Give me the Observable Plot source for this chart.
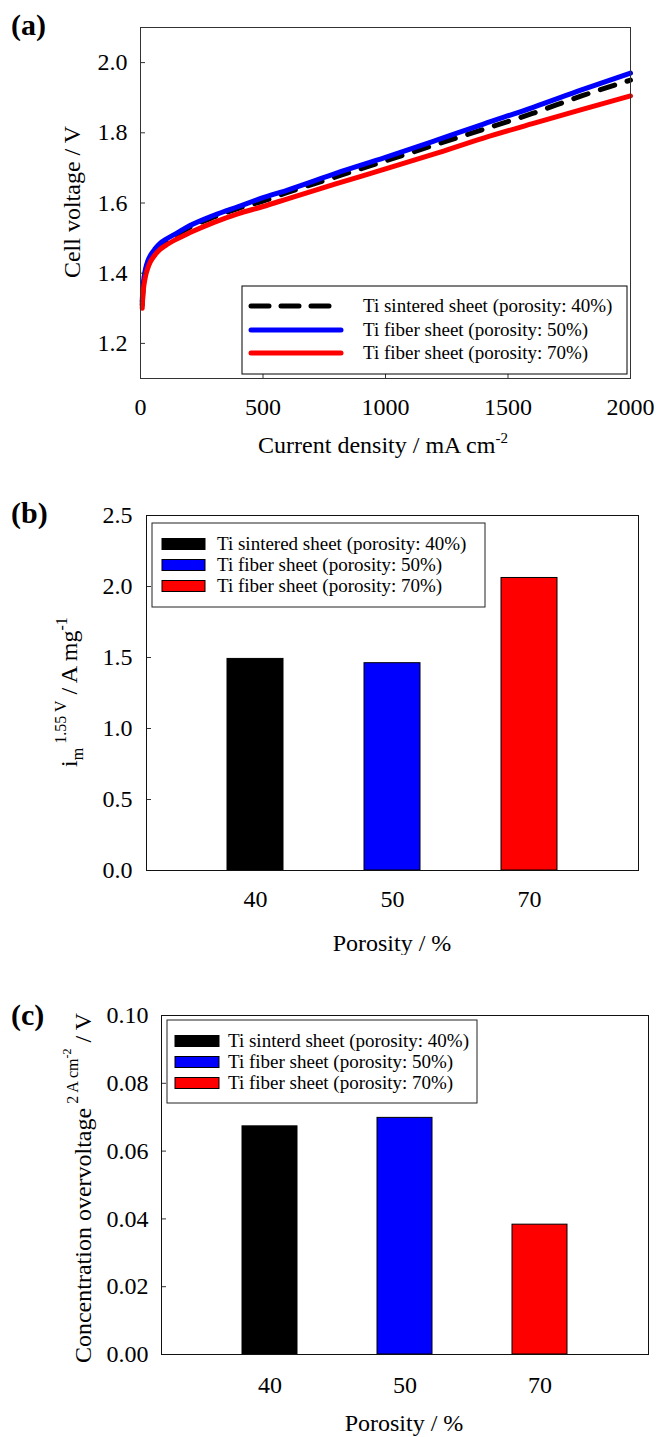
<!DOCTYPE html>
<html><head><meta charset="utf-8">
<script src="https://cdn.jsdelivr.net/npm/d3@7"></script>
<script src="https://cdn.jsdelivr.net/npm/@observablehq/plot@0.6"></script>
<style>
body{margin:0;background:#fff;}
#root{position:relative;width:656px;height:1437px;overflow:hidden;background:#fff;}
#root svg{position:absolute;left:0;}
</style></head><body><div id="root"></div>
<script>
const FONT = "'Liberation Serif', 'Times New Roman', serif";

// ---- Panel (a): polarization curves ----
const currentDensity = [7, 10, 15, 20, 30, 40, 60, 80, 100, 150, 200, 300, 400, 500, 600, 800, 1000, 1200, 1400, 1600, 1800, 2000];
const vSintered40 = [1.31, 1.35, 1.385, 1.405, 1.43, 1.445, 1.465, 1.48, 1.49, 1.51, 1.53, 1.56, 1.585, 1.605, 1.63, 1.675, 1.72, 1.765, 1.81, 1.855, 1.905, 1.95];
const vFiber50    = [1.32, 1.36, 1.39, 1.41, 1.435, 1.45, 1.47, 1.485, 1.495, 1.515, 1.535, 1.565, 1.59, 1.615, 1.637, 1.685, 1.73, 1.777, 1.825, 1.872, 1.922, 1.97];
const vFiber70    = [1.30, 1.34, 1.37, 1.39, 1.415, 1.432, 1.453, 1.468, 1.478, 1.498, 1.515, 1.545, 1.57, 1.59, 1.612, 1.655, 1.697, 1.74, 1.785, 1.826, 1.866, 1.905];
const xTicksA = [0, 500, 1000, 1500, 2000];
const yTicksA = [1.2, 1.4, 1.6, 1.8, 2.0];
const seriesA = ["Ti sintered sheet (porosity: 40%)", "Ti fiber sheet (porosity: 50%)", "Ti fiber sheet (porosity: 70%)"];

// ---- Panels (b), (c): bars ----
const porosity = ["40", "50", "70"];
const massActivity = [1.49, 1.46, 2.06];
const concOvervoltage = [0.0673, 0.0698, 0.0383];
const yTicksB = [0, 0.5, 1.0, 1.5, 2.0, 2.5];
const yTicksC = [0, 0.02, 0.04, 0.06, 0.08, 0.10];
const seriesB = ["Ti sintered sheet (porosity: 40%)", "Ti fiber sheet (porosity: 50%)", "Ti fiber sheet (porosity: 70%)"];
const seriesC = ["Ti sinterd sheet (porosity: 40%)", "Ti fiber sheet (porosity: 50%)", "Ti fiber sheet (porosity: 70%)"];
const colors = ["#000000", "#0000ff", "#ff0000"];

const root = document.getElementById("root");
const baseStyle = {fontFamily: FONT, fontSize: "24px", color: "#000", background: "#fff", overflow: "visible"};

function inwardAxes(xTicks, yTicks, xfmt, yfmt, xpad, ypad, isBand) {
  const m = [];
  m.push(Plot.axisY({ticks: yTicks, tickSize: 0, tickPadding: ypad, tickFormat: yfmt, label: null}));
  m.push(Plot.axisY({ticks: yTicks, tickSize: 5, dx: 5, fill: "none", label: null, stroke: "#333"}));
  if (isBand) {
    m.push(Plot.axisX({tickSize: 0, tickPadding: xpad, label: null}));
  } else {
    m.push(Plot.axisX({ticks: xTicks, tickSize: 0, tickPadding: xpad, tickFormat: xfmt, label: null}));
    m.push(Plot.axisX({ticks: xTicks, tickSize: 5, dy: -5, fill: "none", label: null, stroke: "#333"}));
  }
  return m;
}

// ===== Panel A =====
const curveRows = [];
[vSintered40, vFiber50, vFiber70].forEach((arr, s) => arr.forEach((v, i) => curveRows.push({I: currentDensity[i], V: v, s})));
const A = Plot.plot({
  width: 656, height: 470, marginTop: 27, marginBottom: 92, marginLeft: 140, marginRight: 26,
  style: baseStyle,
  x: {domain: [0, 2000]},
  y: {domain: [1.1, 2.1]},
  marks: [
    Plot.line(curveRows.filter(d => d.s === 0), {x: "I", y: "V", stroke: colors[0], strokeWidth: 5, strokeDasharray: "15,13", strokeLinecap: "round", curve: "monotone-x"}),
    Plot.line(curveRows.filter(d => d.s === 1), {x: "I", y: "V", stroke: colors[1], strokeWidth: 5, strokeLinecap: "round", curve: "monotone-x"}),
    Plot.line(curveRows.filter(d => d.s === 2), {x: "I", y: "V", stroke: colors[2], strokeWidth: 5, strokeLinecap: "round", curve: "monotone-x"}),
    ...inwardAxes(xTicksA, yTicksA, d3.format("d"), d3.format(".1f"), 19, 13, false),
    Plot.frame({stroke: "#333"})
  ]
});
A.style.top = "0px";
root.appendChild(A);

// ===== Panel B =====
const barsB = porosity.map((p, i) => ({p, v: massActivity[i]}));
const B = Plot.plot({
  width: 656, height: 485, marginTop: 45, marginBottom: 85, marginLeft: 146, marginRight: 18,
  style: baseStyle,
  x: {type: "band", domain: porosity, padding: 0.59},
  y: {domain: [0, 2.5]},
  color: {type: "ordinal", domain: porosity, range: colors},
  marks: [
    Plot.barY(barsB, {x: "p", y: "v", fill: "p", stroke: "#000", strokeWidth: 1}),
    ...inwardAxes(null, yTicksB, null, d3.format(".1f"), 19, 14, true),
    Plot.frame({stroke: "#111"})
  ]
});
B.style.top = "470px";
root.appendChild(B);

// ===== Panel C =====
const barsC = porosity.map((p, i) => ({p, v: concOvervoltage[i]}));
const C = Plot.plot({
  width: 656, height: 482, marginTop: 60, marginBottom: 83, marginLeft: 161, marginRight: 8,
  style: baseStyle,
  x: {type: "band", domain: porosity, padding: 0.59},
  y: {domain: [0, 0.10]},
  color: {type: "ordinal", domain: porosity, range: colors},
  marks: [
    Plot.barY(barsC, {x: "p", y: "v", fill: "p", stroke: "#000", strokeWidth: 1}),
    ...inwardAxes(null, yTicksC, null, d3.format(".2f"), 21, 13, true),
    Plot.frame({stroke: "#111"})
  ]
});
C.style.top = "955px";
root.appendChild(C);

// ===== Annotations (titles, legends, panel letters) =====
function panelLetter(svg, txt, x, y) {
  d3.select(svg).append("text").attr("x", x).attr("y", y).attr("text-anchor", "start")
    .attr("font-family", FONT).attr("font-weight", "bold").attr("font-size", 30).attr("fill", "#000").text(txt);
}
function rotLabel(svg, x, y, parts) {
  const t = d3.select(svg).append("text")
    .attr("transform", `translate(${x},${y}) rotate(-90)`)
    .attr("text-anchor", "middle").attr("font-family", FONT).attr("font-size", 24).attr("fill", "#000");
  parts.forEach(p => {
    const s = t.append("tspan").text(p.t);
    if (p.size) s.attr("font-size", p.size);
    if (p.dy) s.attr("dy", p.dy);
    if (p.dx) s.attr("dx", p.dx);
  });
}
function hLabel(svg, x, y, parts) {
  const t = d3.select(svg).append("text").attr("x", x).attr("y", y)
    .attr("text-anchor", "middle").attr("font-family", FONT).attr("font-size", 24).attr("fill", "#000");
  parts.forEach(p => {
    const s = t.append("tspan").text(p.t);
    if (p.size) s.attr("font-size", p.size);
    if (p.dy) s.attr("dy", p.dy);
  });
}

// Panel A texts
panelLetter(A, "(a)", 11, 35);
rotLabel(A, 80, 202, [{t: "Cell voltage / V"}]);
hLabel(A, 383, 453, [{t: "Current density / mA cm"}, {t: "-2", size: 15, dy: -10}]);
{
  const g = d3.select(A).append("g").attr("font-family", FONT).attr("font-size", 19).attr("text-anchor", "start");
  g.append("rect").attr("x", 242).attr("y", 286).attr("width", 385).attr("height", 88).attr("fill", "#fff").attr("stroke", "#000").attr("stroke-width", 1);
  const rows = [306, 330, 353];
  seriesA.forEach((name, i) => {
    const ln = g.append("line").attr("x1", 251).attr("x2", 341).attr("y1", rows[i]).attr("y2", rows[i])
      .attr("stroke", colors[i]).attr("stroke-width", 5).attr("stroke-linecap", "round");
    if (i === 0) ln.attr("stroke-dasharray", "18,12");
    g.append("text").attr("x", 363).attr("y", rows[i] + 6).attr("fill", "#000").attr("text-anchor", "start").text(name);
  });
}

// Panel B texts (svg offset 470)
panelLetter(B, "(b)", 11, 523 - 470);
rotLabel(B, 77, 692 - 470, [
  {t: "i"}, {t: "m", size: 16, dy: 6}, {t: "1.55 V", size: 16, dy: -17, dx: 4},
  {t: " / A mg", dy: 11}, {t: "-1", size: 16, dy: -10}
]);
hLabel(B, 392, 951 - 470, [{t: "Porosity / %"}]);
{
  const g = d3.select(B).append("g").attr("font-family", FONT).attr("font-size", 19).attr("text-anchor", "start");
  g.append("rect").attr("x", 152).attr("y", 523 - 470).attr("width", 333).attr("height", 84).attr("fill", "#fff").attr("stroke", "#222").attr("stroke-width", 1);
  const rows = [544, 565, 586];
  seriesB.forEach((name, i) => {
    g.append("rect").attr("x", 162).attr("y", rows[i] - 470 - 5.5).attr("width", 43).attr("height", 11)
      .attr("fill", colors[i]).attr("stroke", "#000").attr("stroke-width", 1);
    g.append("text").attr("x", 217).attr("y", rows[i] - 470 + 6).attr("fill", "#000").attr("text-anchor", "start").text(name);
  });
}

// Panel C texts (svg offset 955)
panelLetter(C, "(c)", 11, 1025 - 955);
rotLabel(C, 91, 1188 - 955, [
  {t: "Concentration overvoltage"}, {t: " 2 A cm", size: 16, dy: -13}, {t: "-2", size: 12, dy: -7},
  {t: " / V", dy: 20}
]);
hLabel(C, 404, 1431 - 955, [{t: "Porosity / %"}]);
{
  const g = d3.select(C).append("g").attr("font-family", FONT).attr("font-size", 19).attr("text-anchor", "start");
  g.append("rect").attr("x", 167).attr("y", 1020 - 955).attr("width", 310).attr("height", 83).attr("fill", "#fff").attr("stroke", "#222").attr("stroke-width", 1);
  const rows = [1041, 1062, 1083];
  seriesC.forEach((name, i) => {
    g.append("rect").attr("x", 175).attr("y", rows[i] - 955 - 5.5).attr("width", 44).attr("height", 11)
      .attr("fill", colors[i]).attr("stroke", "#000").attr("stroke-width", 1);
    g.append("text").attr("x", 228).attr("y", rows[i] - 955 + 6).attr("fill", "#000").attr("text-anchor", "start").text(name);
  });
}
</script></body></html>
